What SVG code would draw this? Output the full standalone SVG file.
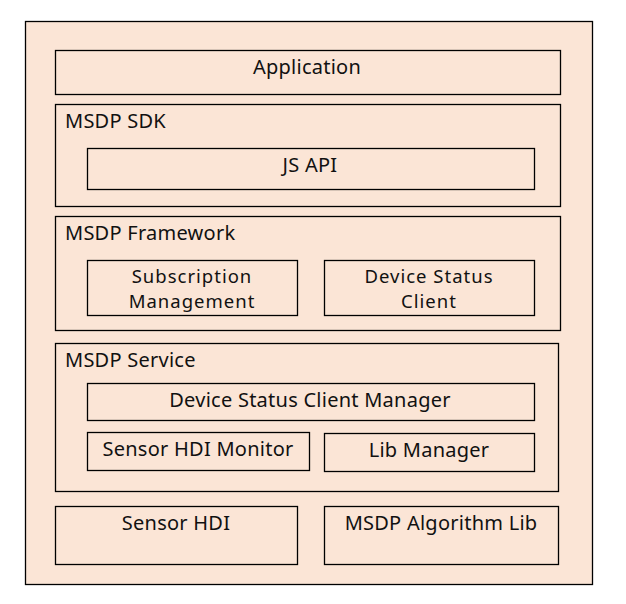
<svg xmlns="http://www.w3.org/2000/svg" width="626" height="604" viewBox="0 0 626 604">
<style>
.b{fill:#FBE5D6;stroke:#000;stroke-width:1.3}
.t{font-family:"Noto Sans","Open Sans","DejaVu Sans",sans-serif;font-size:20px;letter-spacing:0.25px;fill:#111}
.c{text-anchor:middle}
.m{font-size:18.5px;letter-spacing:1px}
</style>
<rect width="626" height="604" fill="#fff"/>
<g id="outer"><rect class="b" x="25.5" y="21.5" width="567" height="563"/></g>
<g id="application"><rect class="b" x="55.5" y="50.5" width="505" height="44"/><text class="t c" x="307" y="74">Application</text></g>
<g id="msdp-sdk"><rect class="b" x="55.5" y="104.5" width="505" height="102"/><text class="t" x="65" y="128">MSDP SDK</text></g>
<g id="js-api"><rect class="b" x="87.5" y="148.5" width="447" height="41"/><text class="t c" x="310" y="172">JS API</text></g>
<g id="msdp-framework"><rect class="b" x="55.5" y="216.5" width="505" height="114"/><text class="t" x="65" y="240">MSDP Framework</text></g>
<g id="subscription"><rect class="b" x="87.5" y="260.5" width="210" height="55"/><text class="t c m" x="192" y="283">Subscription<tspan x="192" dy="25.4">Management</tspan></text></g>
<g id="device-status-client"><rect class="b" x="324.5" y="260.5" width="210" height="55"/><text class="t c m" x="429" y="283">Device Status<tspan x="429" dy="25.4">Client</tspan></text></g>
<g id="msdp-service"><rect class="b" x="55.5" y="343.5" width="503" height="148"/><text class="t" x="65" y="367">MSDP Service</text></g>
<g id="client-manager"><rect class="b" x="87.5" y="383.5" width="447" height="37"/><text class="t c" x="310" y="407">Device Status Client Manager</text></g>
<g id="hdi-monitor"><rect class="b" x="87.5" y="432.5" width="222" height="38"/><text class="t c" x="198" y="456">Sensor HDI Monitor</text></g>
<g id="lib-manager"><rect class="b" x="324.5" y="433.5" width="210" height="38"/><text class="t c" x="429" y="457">Lib Manager</text></g>
<g id="sensor-hdi"><rect class="b" x="55.5" y="506.5" width="242" height="58"/><text class="t c" x="176" y="530">Sensor HDI</text></g>
<g id="algorithm-lib"><rect class="b" x="324.5" y="506.5" width="234" height="58"/><text class="t c" x="441" y="530">MSDP Algorithm Lib</text></g>
<g id="connectors"></g>
</svg>
